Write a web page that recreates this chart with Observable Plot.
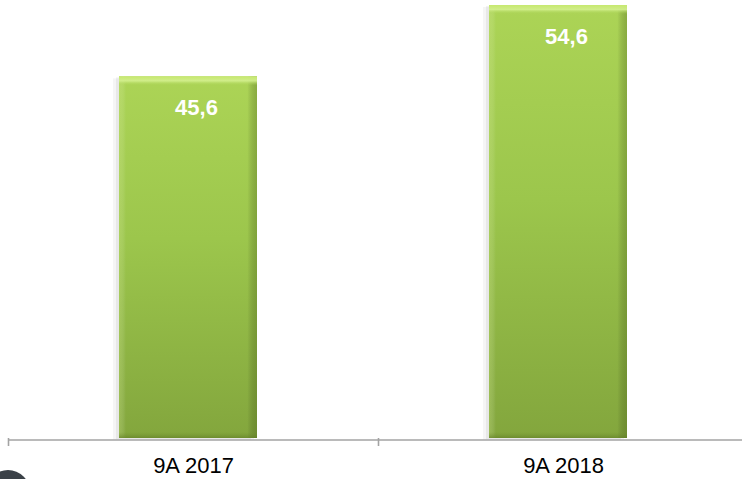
<!DOCTYPE html>
<html><head><meta charset="utf-8">
<script src="https://cdn.jsdelivr.net/npm/d3@7"></script>
<script src="https://cdn.jsdelivr.net/npm/@observablehq/plot@0.6"></script>
<style>
body{margin:0;background:#fff;}
#chart{position:relative;width:742px;height:479px;overflow:hidden;}
#logo{position:absolute;left:-14px;top:470px;width:44px;height:44px;border-radius:50%;background:#3b4148;}
</style>
</head><body><div id="chart"><div id="logo"></div></div>
<script>
const categories = ["9A 2017", "9A 2018"];
const values = [45.6, 54.6];
const valueLabels = ["45,6", "54,6"];
const data = categories.map((c, i) => ({category: c, value: values[i], label: valueLabels[i]}));
const yMax = d3.max(values);

const plot = Plot.plot({
  width: 742,
  height: 479,
  marginLeft: 8,
  marginRight: -6,
  marginTop: 5,
  marginBottom: 41,
  style: {fontFamily: "'Liberation Sans', Arial, sans-serif", background: "transparent", overflow: "visible"},
  x: {domain: categories, paddingInner: 0.627, paddingOuter: 0.3135, axis: null},
  y: {domain: [0, yMax], axis: null},
  marks: [
    Plot.barY(data, {x: "category", y: "value", fill: "#000", fillOpacity: 0.04, dx: -11, dy: 2}),
    Plot.barY(data, {x: "category", y: "value", fill: "#000", fillOpacity: 0.05, dx: -8, dy: 1}),
    Plot.barY(data, {x: "category", y: "value", fill: "url(#faceGrad)", dx: -5}),
    Plot.barY(data, {x: "category", y: "value", fill: "url(#sideGrad)", dx: -5}),
    Plot.barY(data, {x: "category", y1: "value", y2: "value", insetBottom: -9, fill: "url(#topGrad)", dx: -5}),
    Plot.barY(data, {x: "category", y1: 0, y2: 0, insetTop: -6, fill: "url(#bottomGrad)", dx: -5}),
    Plot.ruleY([0], {stroke: "#a3a3a3", strokeWidth: 1.6, dy: 1.5}),
    Plot.ruleX(categories, {x: d => d, y1: 0, y2: 0, insetBottom: -8, dx: -185, stroke: "#a3a3a3", strokeWidth: 1.6}),
    Plot.axisX({tickSize: 0, tickPadding: 19, fontSize: 22, fill: "#000", label: null}),
    Plot.text(data, {x: "category", y: "value", text: "label", dy: 31, dx: 3, fill: "white", fontWeight: "bold", fontSize: 22})
  ]
});

const svg = d3.select(plot);
const defs = svg.insert("defs", ":first-child");
function grad(id, x2, y2, stops) {
  const g = defs.append("linearGradient").attr("id", id)
    .attr("x1", 0).attr("y1", 0).attr("x2", x2).attr("y2", y2);
  stops.forEach(([o, c, a]) => g.append("stop").attr("offset", o).attr("stop-color", c).attr("stop-opacity", a));
}
grad("faceGrad", 0, 1, [[0, "#acd456", 1], [0.45, "#9cc64c", 1], [1, "#83a63d", 1]]);
grad("sideGrad", 1, 0, [[0, "#cfe88a", 0.3], [0.05, "#ffffff", 0], [0.93, "#000000", 0], [1, "#3d5210", 0.3]]);
grad("topGrad", 0, 1, [[0, "#c6e86e", 1], [0.5, "#d4f08f", 0.9], [1, "#acd456", 0]]);
grad("bottomGrad", 0, 1, [[0, "#6f8f2e", 0], [1, "#5e7a25", 0.6]]);

document.getElementById("chart").prepend(plot);
</script>
</body></html>
